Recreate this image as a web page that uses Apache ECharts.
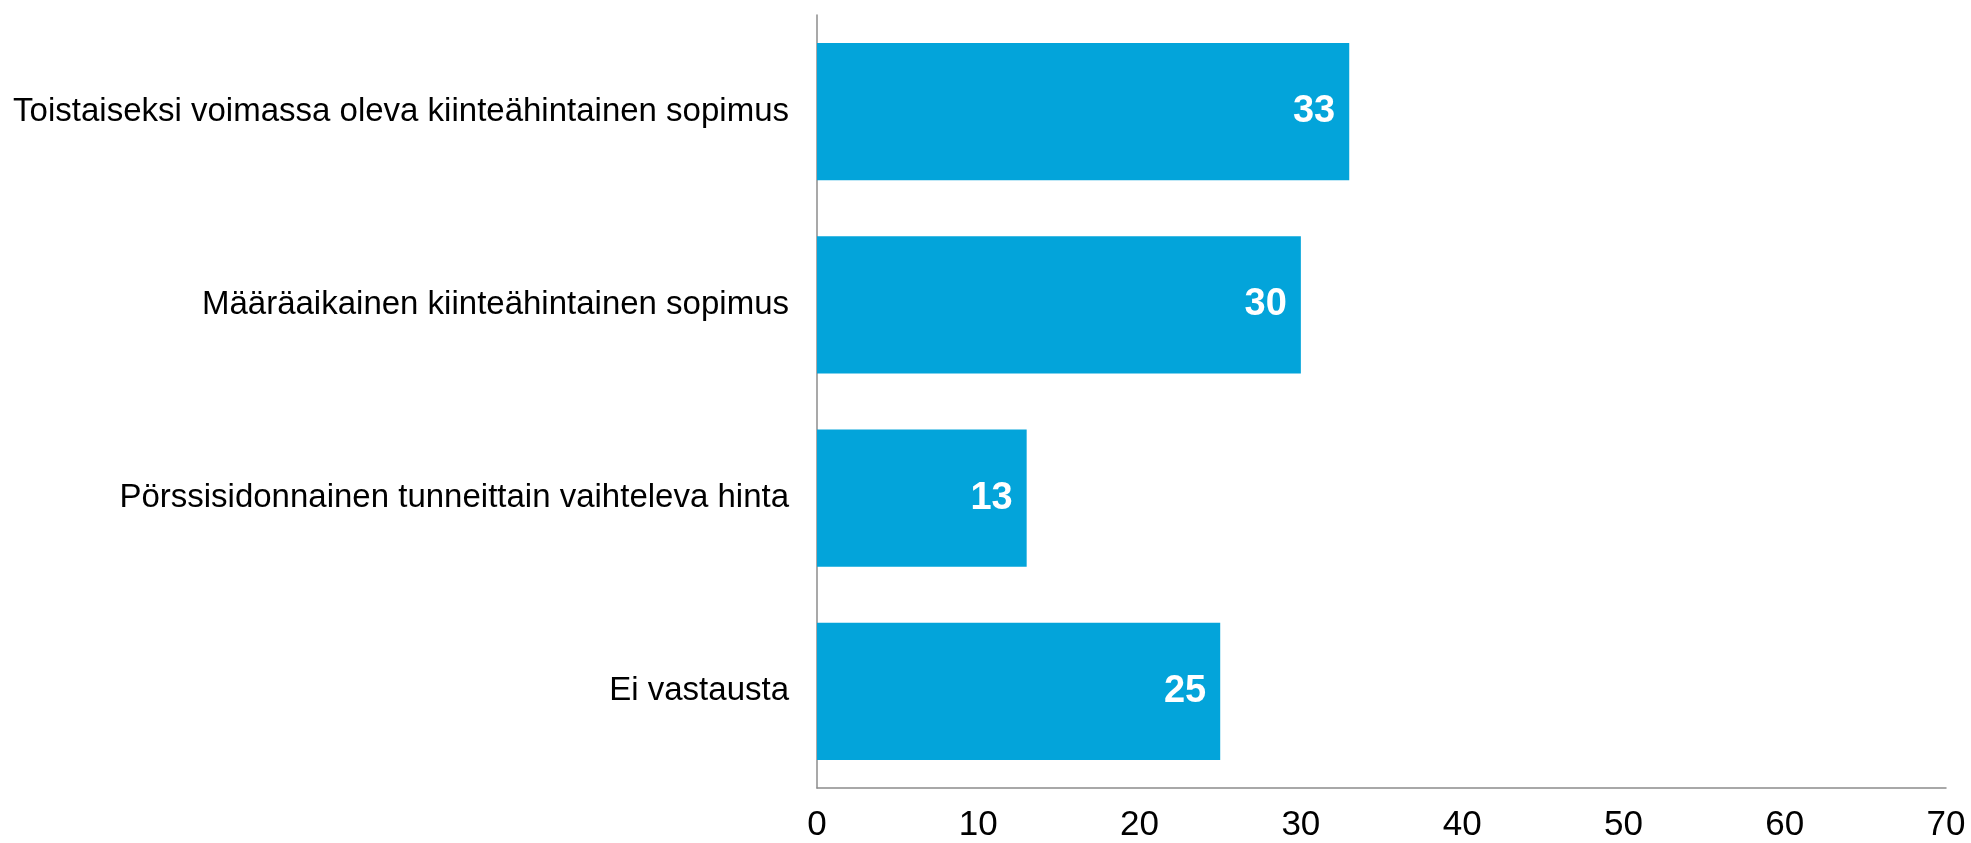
<!DOCTYPE html>
<html>
<head>
<meta charset="utf-8">
<script src="https://cdn.jsdelivr.net/npm/echarts@6/dist/echarts.min.js"></script>
<style>
html, body { margin: 0; padding: 0; background: #fff; }
#demo { width: 1971px; height: 843px; }
</style>
</head>
<body>
<div id="demo"></div>
<script>
// kategoriat ylhäältä alas
var categories = [
    'Toistaiseksi voimassa oleva kiinteähintainen sopimus',
    'Määräaikainen kiinteähintainen sopimus',
    'Pörssisidonnainen tunneittain vaihteleva hinta',
    'Ei vastausta'
];
var values = [33, 30, 13, 25];
var xTicks = [0, 10, 20, 30, 40, 50, 60, 70];

var chartDom = document.getElementById('demo');
var myChart = echarts.init(chartDom);
var option;
option = {
    animation: false,
    grid: {
        left: 817,
        right: 25,
        top: 15,
        bottom: 49
    },
    xAxis: {
        type: 'value',
        min: xTicks[0],
        max: xTicks[xTicks.length - 1],
        interval: 10,
        splitLine: { show: false },
        axisLine: { show: true, lineStyle: { color: '#8c8c8c', width: 1.5 } },
        axisTick: { show: false },
        axisLabel: {
            color: '#000',
            fontSize: 35,
            fontFamily: 'Liberation Sans, Arial',
            margin: 20
        }
    },
    yAxis: {
        type: 'category',
        inverse: true,
        data: categories,
        axisLine: { show: true, lineStyle: { color: '#8c8c8c', width: 1.5 } },
        axisTick: { show: false },
        axisLabel: {
            color: '#000',
            fontSize: 33,
            fontFamily: 'Liberation Sans, Arial',
            margin: 28
        }
    },
    series: [{
        type: 'bar',
        data: values,
        barCategoryGap: '29%',
        itemStyle: { color: '#03A4DA' },
        label: {
            show: true,
            position: 'insideRight',
            distance: 14,
            color: '#fff',
            fontWeight: 'bold',
            fontSize: 38,
            fontFamily: 'Liberation Sans, Arial'
        }
    }]
};
option && myChart.setOption(option);
</script>
</body>
</html>
